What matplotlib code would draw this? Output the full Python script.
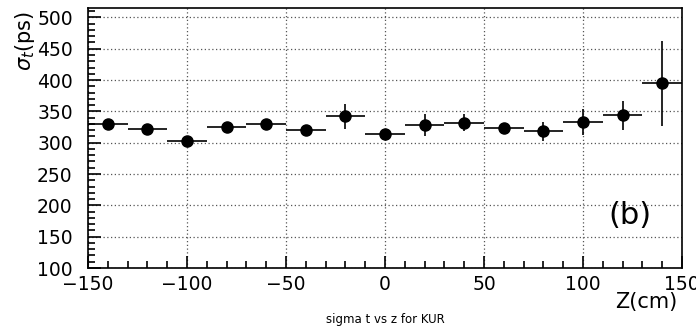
import matplotlib
matplotlib.use("Agg")
import matplotlib.pyplot as plt
import numpy as np
from matplotlib.ticker import MultipleLocator

z = [-140, -120, -100, -80, -60, -40, -20, 0, 20, 40, 60, 80, 100, 120, 140]
sigma = [329.5, 321.5, 302, 325, 330, 321, 342, 313.5, 328, 332, 323, 318, 333, 344, 395]
sigma_err = [8, 6, 7, 7, 7, 8, 20, 6, 18, 14, 8, 15, 20, 23, 68]
z_halfwidth = [10] * len(z)

plt.rcParams['font.family'] = ['DejaVu Sans']
fig = plt.figure(figsize=(6.96, 3.28), dpi=100)
ax = fig.add_axes([88/696, 1-268/328, (682-88)/696, (268-8)/328])

ax.errorbar(z, sigma, yerr=sigma_err, xerr=z_halfwidth, fmt='o', color='black',
            ms=8, elinewidth=1.2, capsize=0, zorder=3)

ax.set_xlim(-150, 150)
ax.set_ylim(100, 515)
ax.xaxis.set_major_locator(MultipleLocator(50))
ax.xaxis.set_minor_locator(MultipleLocator(10))
ax.yaxis.set_major_locator(MultipleLocator(50))
ax.yaxis.set_minor_locator(MultipleLocator(10))
ax.tick_params(which='both', direction='in', top=False, right=False, width=1.2)
ax.tick_params(which='major', length=9, labelsize=13.5)
ax.tick_params(which='minor', length=5)
ax.tick_params(axis='y', which='major', pad=11)
ax.tick_params(axis='x', which='major', pad=5)
ax.grid(True, which='major', linestyle=(0, (1, 2)), color='#555555', linewidth=0.9)
for s in ax.spines.values():
    s.set_linewidth(1.2)

ax.set_xticks([-150, -100, -50, 0, 50, 100, 150])
ax.set_xticklabels(['\u2212150', '\u2212100', '\u221250', '0', '50', '100', '150'])

fig.text(25/696, 1-41/328, r'$\sigma_t$(ps)', rotation=90, ha='center', va='center', fontsize=15)
fig.text(646/696, 1-302/328, 'Z(cm)', ha='center', va='center', fontsize=15)
fig.text(385/696, 1-319/328, 'sigma t vs z for KUR', ha='center', va='center', fontsize=8.5)
fig.text(630/696, 1-216/328, '(b)', ha='center', va='center', fontsize=22)

fig.savefig('out.png', dpi=100)
